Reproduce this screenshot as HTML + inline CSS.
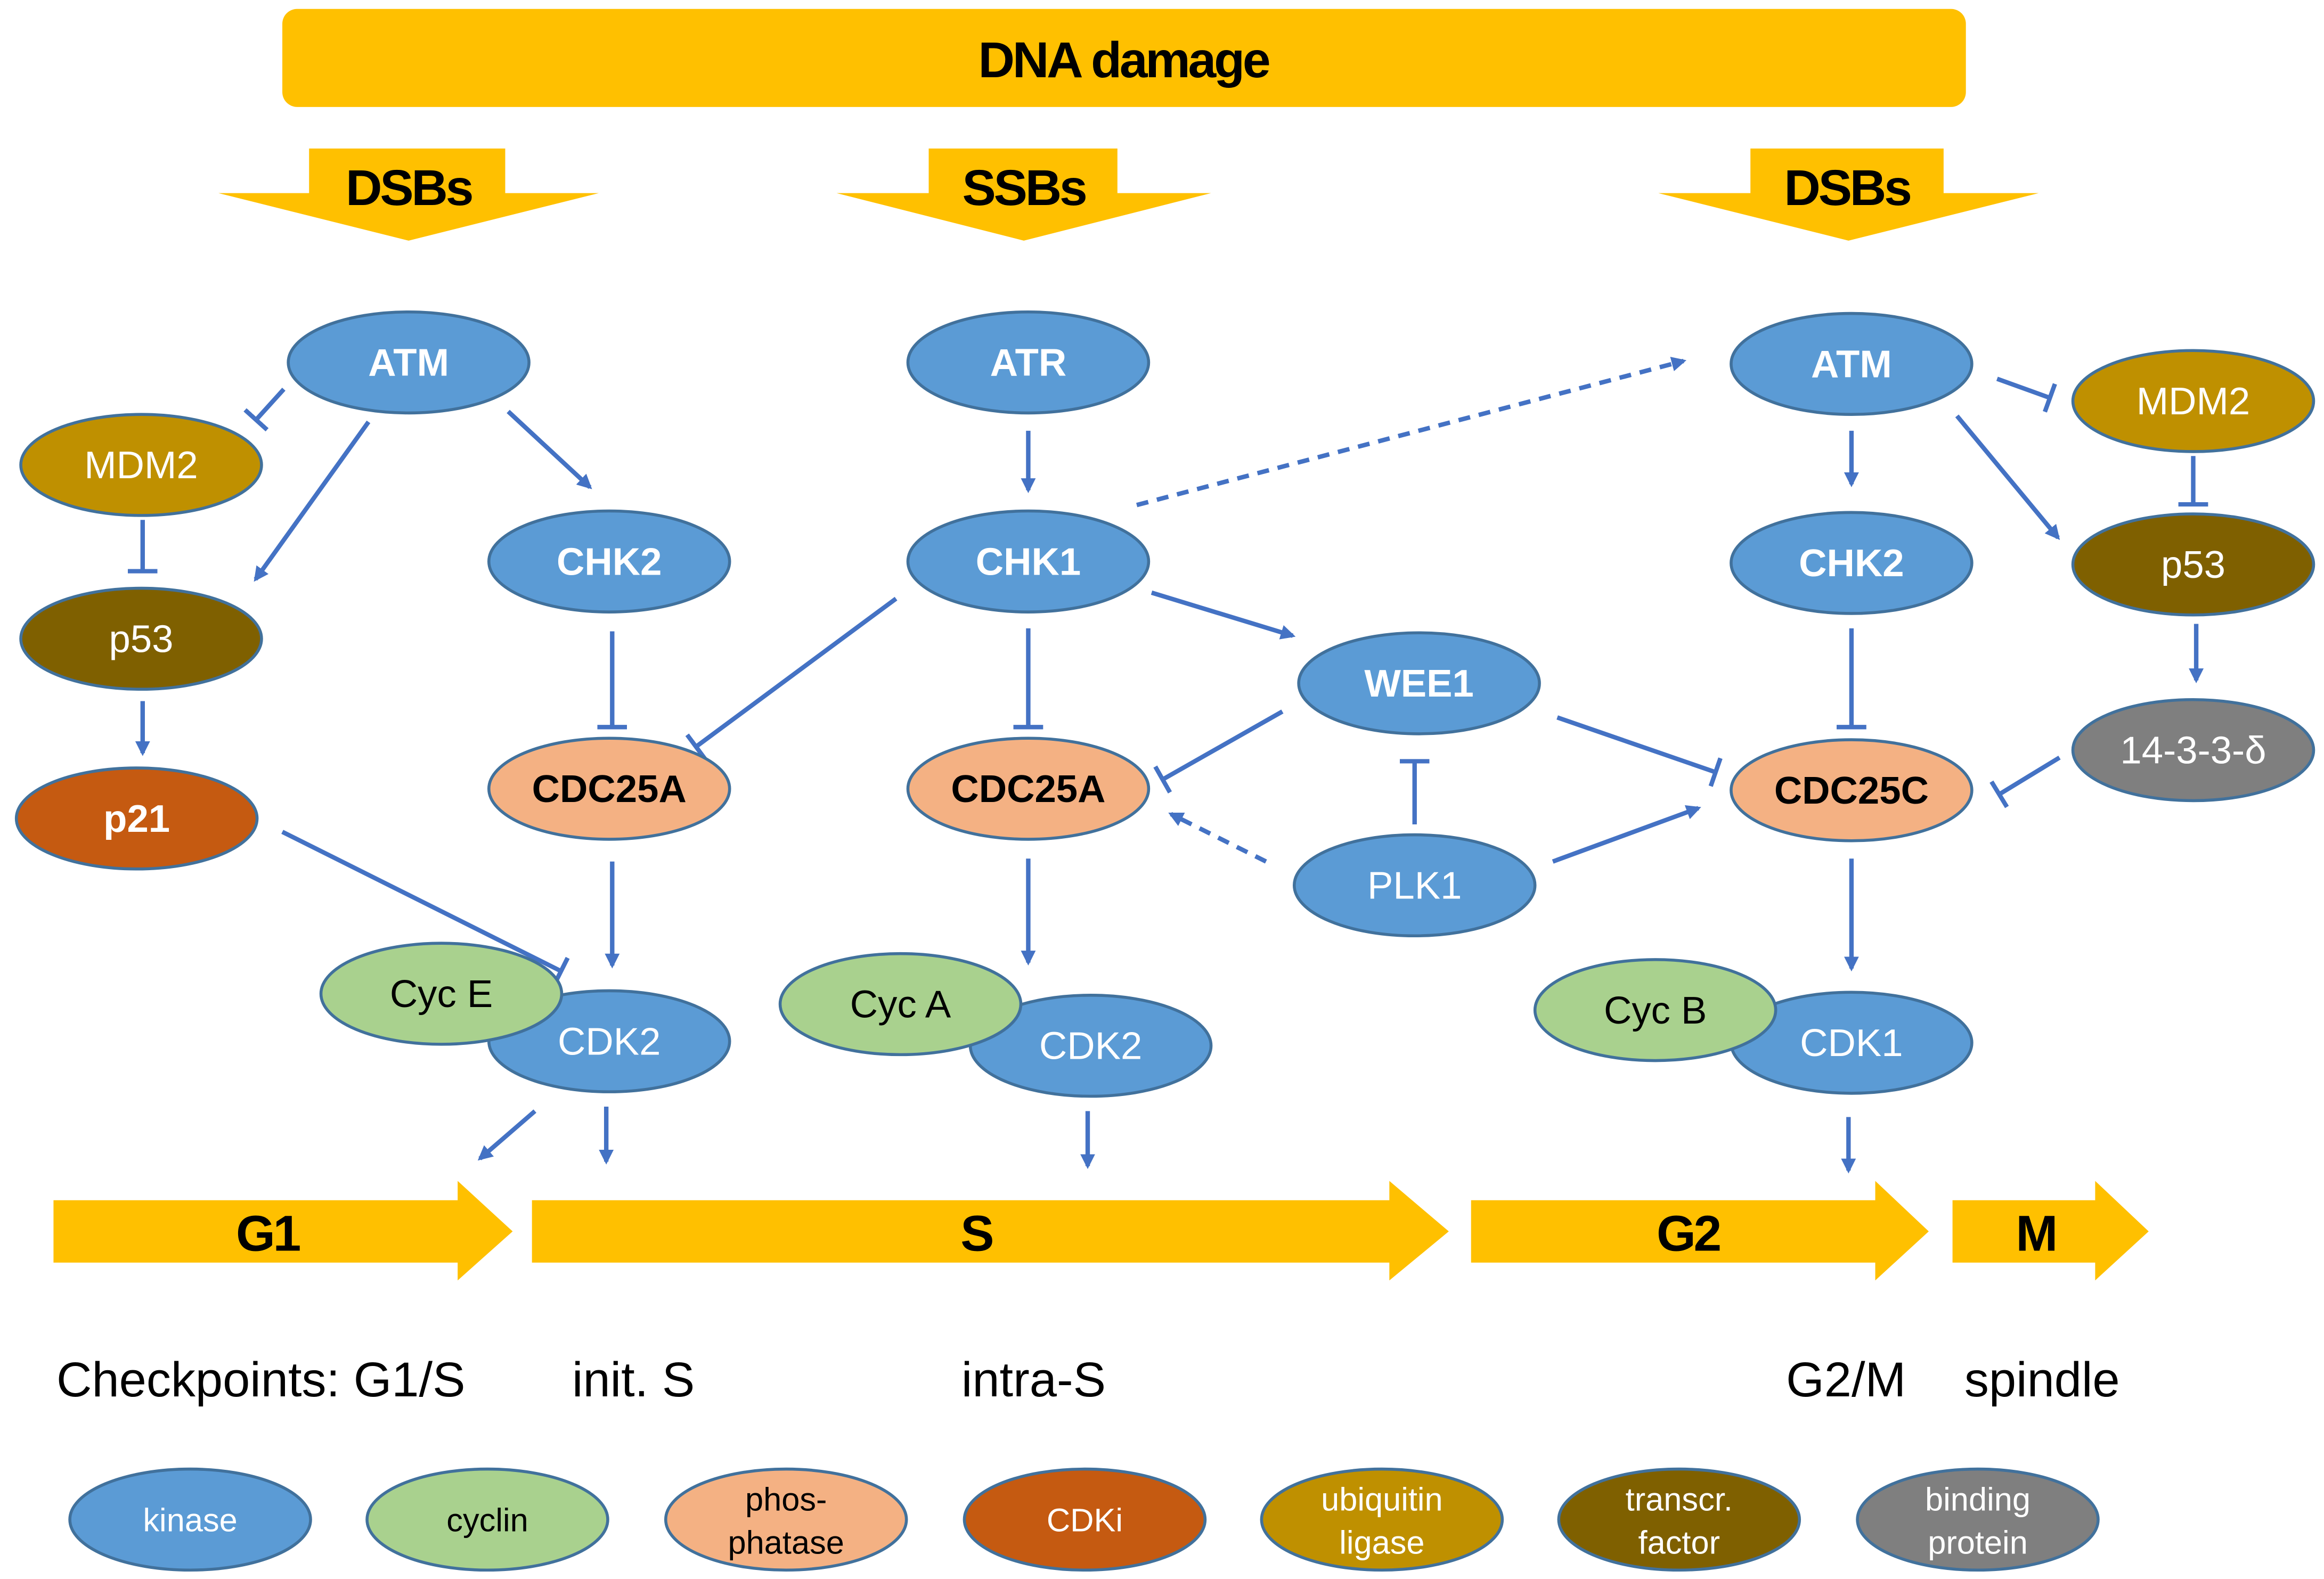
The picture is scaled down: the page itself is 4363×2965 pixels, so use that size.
<!DOCTYPE html>
<html><head><style>html,body{margin:0;padding:0;background:#fff}svg{display:block}</style></head><body>
<svg width="4363" height="2965" viewBox="0 0 1564 1063" preserveAspectRatio="none" xmlns="http://www.w3.org/2000/svg" font-family="Liberation Sans, sans-serif">
<defs>
<marker id="a" markerWidth="10" markerHeight="10" refX="8" refY="5" orient="auto" markerUnits="userSpaceOnUse"><path d="M0,0 L10,5 L0,10 z" fill="#4472c4"/></marker>
<marker id="t" markerWidth="4" markerHeight="20" refX="2" refY="10" orient="auto" markerUnits="userSpaceOnUse"><rect x="0" y="0" width="3" height="20" fill="#4472c4"/></marker>
</defs>
<rect x="190" y="6" width="1133" height="66" rx="10" fill="#ffc000"/>
<text x="756" y="52" font-size="34" font-weight="bold" text-anchor="middle" letter-spacing="-1.5">DNA damage</text>
<g fill="#ffc000">
<polygon points="208,100 340,100 340,130 403,130 275,162 147,130 208,130"/>
<polygon points="625,100 752,100 752,130 815,130 689,162 563,130 625,130"/>
<polygon points="1178,100 1308,100 1308,130 1372,130 1244,162 1116,130 1178,130"/>
<polygon points="36,808 308,808 308,795 345,829 308,862 308,850 36,850"/>
<polygon points="358,808 935,808 935,795 975,829 935,862 935,850 358,850"/>
<polygon points="990,808 1262,808 1262,795 1298,829 1262,862 1262,850 990,850"/>
<polygon points="1314,808 1410,808 1410,795 1446,829 1410,862 1410,850 1314,850"/>
</g>
<g font-size="34" font-weight="bold" text-anchor="middle" letter-spacing="-1.5">
<text x="275" y="138">DSBs</text><text x="689" y="138">SSBs</text><text x="1243" y="138">DSBs</text>
<text x="180" y="842">G1</text><text x="657" y="842">S</text><text x="1136" y="842">G2</text><text x="1370" y="842">M</text>
</g>
<g stroke="#4472c4" stroke-width="3" fill="none">
<line x1="191" y1="262" x2="172" y2="283" marker-end="url(#t)"/>
<line x1="248" y1="284" x2="172" y2="390" marker-end="url(#a)"/>
<line x1="342" y1="277" x2="397" y2="328" marker-end="url(#a)"/>
<line x1="96" y1="350" x2="96" y2="385" marker-end="url(#t)"/>
<line x1="96" y1="472" x2="96" y2="507" marker-end="url(#a)"/>
<line x1="412" y1="425" x2="412" y2="490" marker-end="url(#t)"/>
<line x1="603" y1="403" x2="468" y2="503" marker-end="url(#t)"/>
<line x1="190" y1="560" x2="378" y2="654" marker-end="url(#t)"/>
<line x1="412" y1="580" x2="412" y2="650" marker-end="url(#a)"/>
<line x1="360" y1="748" x2="323" y2="780" marker-end="url(#a)"/>
<line x1="408" y1="745" x2="408" y2="782" marker-end="url(#a)"/>
<line x1="692" y1="290" x2="692" y2="330" marker-end="url(#a)"/>
<line x1="692" y1="423" x2="692" y2="490" marker-end="url(#t)"/>
<line x1="692" y1="578" x2="692" y2="648" marker-end="url(#a)"/>
<line x1="732" y1="748" x2="732" y2="785" marker-end="url(#a)"/>
<line x1="775" y1="399" x2="870" y2="428" marker-end="url(#a)"/>
<line x1="863" y1="479" x2="782" y2="525" marker-end="url(#t)"/>
<line x1="952" y1="555" x2="952" y2="512" marker-end="url(#t)"/>
<line x1="1048" y1="483" x2="1155" y2="520" marker-end="url(#t)"/>
<line x1="1045" y1="580" x2="1143" y2="544" marker-end="url(#a)"/>
<line x1="1246" y1="290" x2="1246" y2="326" marker-end="url(#a)"/>
<line x1="1246" y1="423" x2="1246" y2="490" marker-end="url(#t)"/>
<line x1="1246" y1="578" x2="1246" y2="652" marker-end="url(#a)"/>
<line x1="1244" y1="752" x2="1244" y2="788" marker-end="url(#a)"/>
<line x1="1344" y1="255" x2="1380" y2="268" marker-end="url(#t)"/>
<line x1="1317" y1="280" x2="1385" y2="362" marker-end="url(#a)"/>
<line x1="1476" y1="307" x2="1476" y2="340" marker-end="url(#t)"/>
<line x1="1478" y1="420" x2="1478" y2="458" marker-end="url(#a)"/>
<line x1="1386" y1="510" x2="1345" y2="535" marker-end="url(#t)"/>
<line x1="765" y1="340" x2="1133" y2="243" stroke-dasharray="8,6" marker-end="url(#a)"/>
<line x1="852" y1="580" x2="788" y2="548" stroke-dasharray="8,6" marker-end="url(#a)"/>
</g>
<g stroke="#41719c" stroke-width="2">
<ellipse cx="275" cy="244" rx="81" ry="34" fill="#5b9bd5"/>
<ellipse cx="95" cy="313" rx="81" ry="34" fill="#bf9000"/>
<ellipse cx="95" cy="430" rx="81" ry="34" fill="#7f6000"/>
<ellipse cx="92" cy="551" rx="81" ry="34" fill="#c55a11"/>
<ellipse cx="410" cy="378" rx="81" ry="34" fill="#5b9bd5"/>
<ellipse cx="410" cy="531" rx="81" ry="34" fill="#f4b183"/>
<ellipse cx="410" cy="701" rx="81" ry="34" fill="#5b9bd5"/>
<ellipse cx="297" cy="669" rx="81" ry="34" fill="#a9d18e"/>
<ellipse cx="692" cy="244" rx="81" ry="34" fill="#5b9bd5"/>
<ellipse cx="692" cy="378" rx="81" ry="34" fill="#5b9bd5"/>
<ellipse cx="692" cy="531" rx="81" ry="34" fill="#f4b183"/>
<ellipse cx="734" cy="704" rx="81" ry="34" fill="#5b9bd5"/>
<ellipse cx="606" cy="676" rx="81" ry="34" fill="#a9d18e"/>
<ellipse cx="955" cy="460" rx="81" ry="34" fill="#5b9bd5"/>
<ellipse cx="952" cy="596" rx="81" ry="34" fill="#5b9bd5"/>
<ellipse cx="1246" cy="245" rx="81" ry="34" fill="#5b9bd5"/>
<ellipse cx="1476" cy="270" rx="81" ry="34" fill="#bf9000"/>
<ellipse cx="1246" cy="379" rx="81" ry="34" fill="#5b9bd5"/>
<ellipse cx="1476" cy="380" rx="81" ry="34" fill="#7f6000"/>
<ellipse cx="1476" cy="505" rx="81" ry="34" fill="#7f7f7f"/>
<ellipse cx="1246" cy="532" rx="81" ry="34" fill="#f4b183"/>
<ellipse cx="1246" cy="702" rx="81" ry="34" fill="#5b9bd5"/>
<ellipse cx="1114" cy="680" rx="81" ry="34" fill="#a9d18e"/>
<ellipse cx="128" cy="1023" rx="81" ry="34" fill="#5b9bd5"/>
<ellipse cx="328" cy="1023" rx="81" ry="34" fill="#a9d18e"/>
<ellipse cx="529" cy="1023" rx="81" ry="34" fill="#f4b183"/>
<ellipse cx="730" cy="1023" rx="81" ry="34" fill="#c55a11"/>
<ellipse cx="930" cy="1023" rx="81" ry="34" fill="#bf9000"/>
<ellipse cx="1130" cy="1023" rx="81" ry="34" fill="#7f6000"/>
<ellipse cx="1331" cy="1023" rx="81" ry="34" fill="#7f7f7f"/>
</g>
<g font-size="26" text-anchor="middle" fill="#fff">
<g font-weight="bold">
<text x="275" y="253">ATM</text><text x="410" y="387">CHK2</text><text x="692" y="253">ATR</text><text x="692" y="387">CHK1</text>
<text x="955" y="469">WEE1</text><text x="1246" y="254">ATM</text><text x="1246" y="388">CHK2</text><text x="92" y="560">p21</text>
<g fill="#000"><text x="410" y="540">CDC25A</text><text x="692" y="540">CDC25A</text><text x="1246" y="541">CDC25C</text></g>
</g>
<text x="95" y="322">MDM2</text><text x="95" y="439">p53</text><text x="410" y="710">CDK2</text><text x="734" y="713">CDK2</text>
<text x="952" y="605">PLK1</text><text x="1476" y="279">MDM2</text><text x="1476" y="389">p53</text><text x="1476" y="514">14-3-3-δ</text>
<text x="1246" y="711">CDK1</text>
<g fill="#000"><text x="297" y="678">Cyc E</text><text x="606" y="685">Cyc A</text><text x="1114" y="689">Cyc B</text></g>
</g>
<g font-size="22" text-anchor="middle" fill="#fff">
<text x="128" y="1031">kinase</text><text x="328" y="1031" fill="#000">cyclin</text>
<text x="529" y="1017" fill="#000">phos-</text><text x="529" y="1046" fill="#000">phatase</text>
<text x="730" y="1031">CDKi</text>
<text x="930" y="1017">ubiquitin</text><text x="930" y="1046">ligase</text>
<text x="1130" y="1017">transcr.</text><text x="1130" y="1046">factor</text>
<text x="1331" y="1017">binding</text><text x="1331" y="1046">protein</text>
</g>
<g font-size="33" fill="#000">
<text x="38" y="940">Checkpoints: G1/S</text><text x="385" y="940">init. S</text><text x="647" y="940">intra-S</text>
<text x="1202" y="940">G2/M</text><text x="1322" y="940">spindle</text>
</g>
</svg>
</body></html>
